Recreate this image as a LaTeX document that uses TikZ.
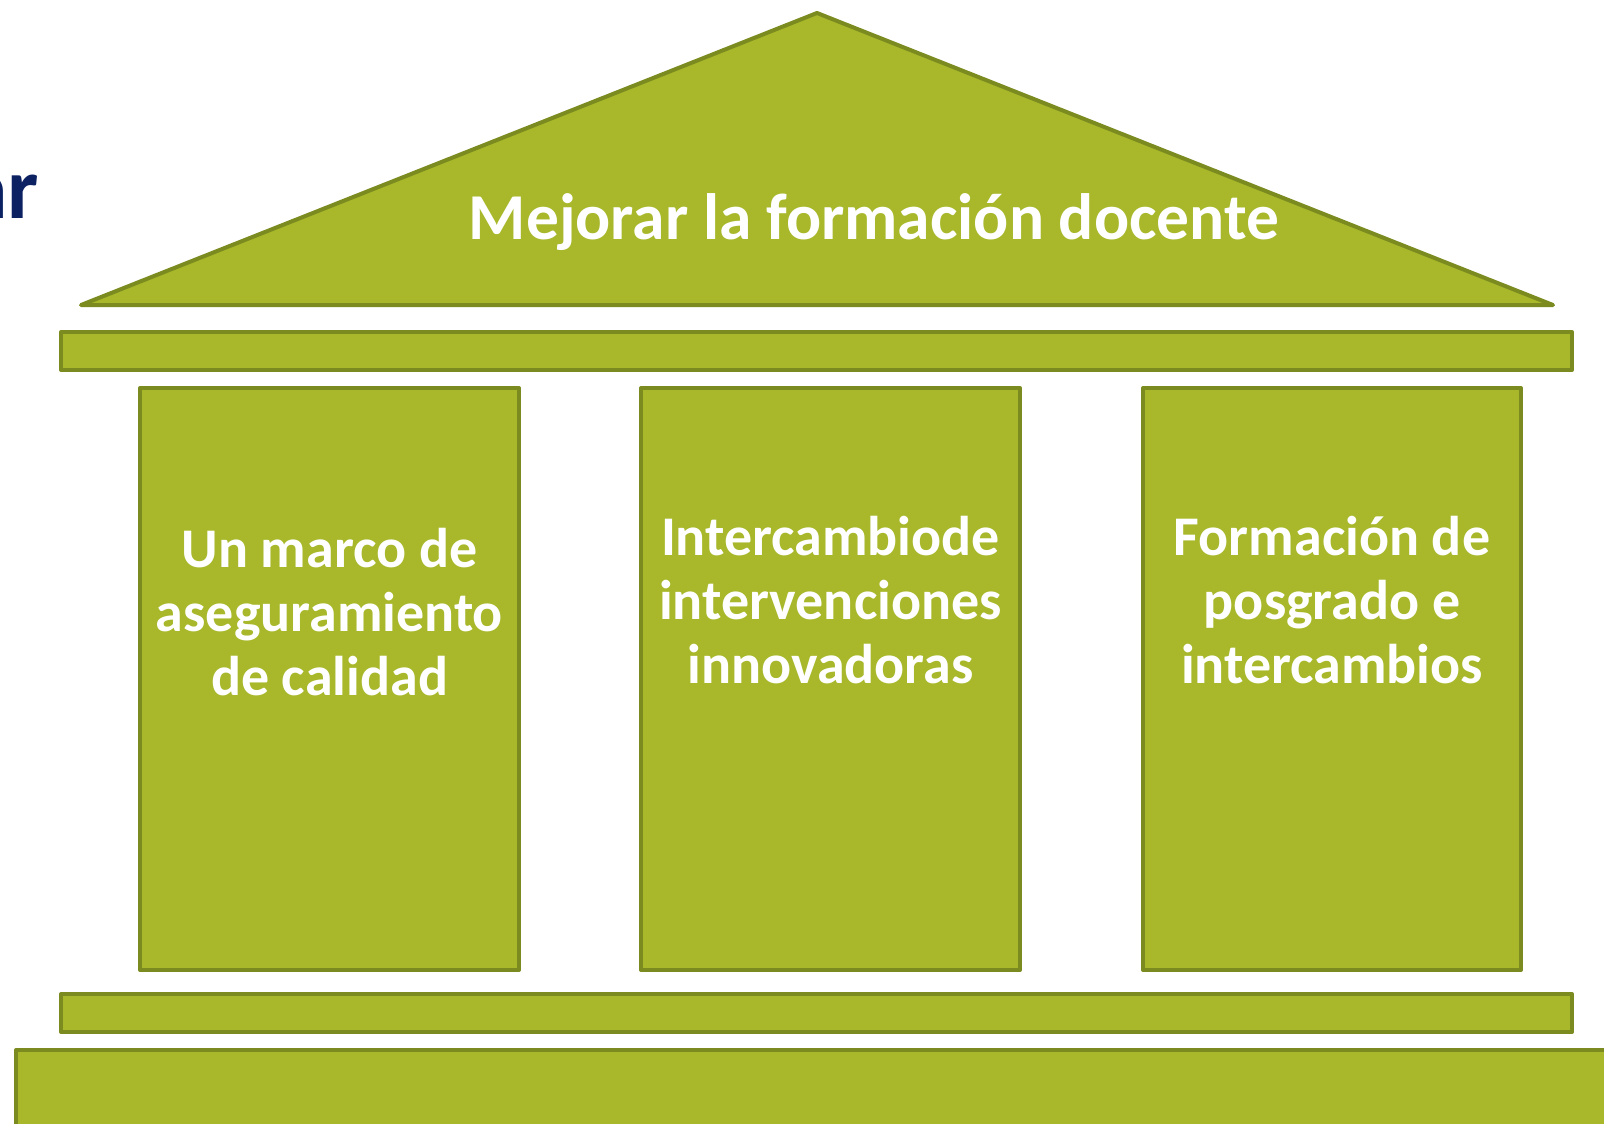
\documentclass[tikz,border=0pt]{standalone}
\usepackage{fontspec}
\setmainfont{Carlito}
\definecolor{olivefill}{HTML}{A8B82A}
\definecolor{olivedraw}{HTML}{7B8B1F}
\definecolor{navytext}{HTML}{0B2162}
\tikzset{
  part/.style={fill=olivefill, draw=olivedraw, line width=4pt, line join=round},
  pillartext/.style={text=white, font=\fontsize{56}{64}\selectfont\bfseries, align=center, inner sep=0pt, anchor=base},
}
\begin{document}
\begin{tikzpicture}[x=1pt,y=-1pt]
\useasboundingbox (0,0) rectangle (1604,1124);
\clip (0,0) rectangle (1604,1124);
\fill[white] (0,0) rectangle (1604,1124);
% partial title at left
\node[text=navytext, font=\fontsize{88}{100}\selectfont\bfseries, anchor=base east, inner sep=0pt] (ar) at (39,218) {ar};
% roof
\draw[part] (81,305) -- (817,13) -- (1553,305) -- cycle;
\node[text=white, font=\fontsize{65.5}{78}\selectfont\bfseries, anchor=base, inner sep=0pt] (title) at (874,239) {Mejorar la formación docente};
% top beam
\draw[part] (61,332) rectangle (1572,370);
% pillars
\draw[part] (140,388) rectangle (519,970);
\draw[part] (641,388) rectangle (1020,970);
\draw[part] (1143,388) rectangle (1521,970);
\node[pillartext] (p1) at (329.5,695) {Un marco de\\aseguramiento\\de calidad};
\node[pillartext] (p2) at (830.5,683) {Intercambiode\\intervenciones\\innovadoras};
\node[pillartext] (p3) at (1332,683) {Formación de\\posgrado e\\intercambios};
% bottom beam and base
\draw[part] (61,994) rectangle (1572,1032);
\draw[part] (16,1050) rectangle (1640,1160);
\end{tikzpicture}
\end{document}
